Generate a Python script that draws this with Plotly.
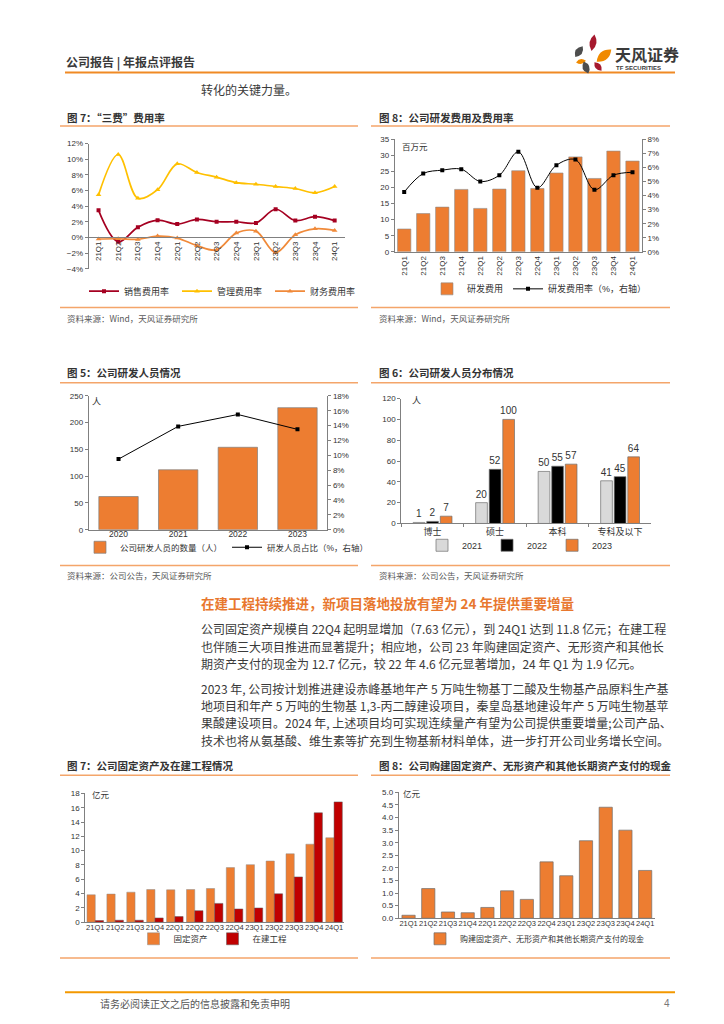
import plotly.graph_objects as go
import math

W, H = 724, 1024
def px(x): return x / W
def py(y): return 1 - y / H

CJK = "Noto Sans CJK SC"
NUM = "Liberation Sans, Noto Sans CJK SC"
ORANGE = "#ED7D31"
DARKRED = "#C00000"
AX = "#808080"
TXT = "#333333"
SEP = "#F4A56A"

# ---------------- data ----------------
quarters = ["21Q1", "21Q2", "21Q3", "21Q4", "22Q1", "22Q2", "22Q3",
            "22Q4", "23Q1", "23Q2", "23Q3", "23Q4", "24Q1"]
sales_rate = [3.46, -0.55, 1.3, 2.2, 1.7, 2.3, 2.0, 2.0, 1.85, 3.6, 2.15, 2.65, 2.15]
admin_rate = [5.44, 10.6, 5.0, 6.1, 9.4, 8.3, 7.7, 7.0, 6.8, 6.5, 6.25, 5.7, 6.5]
fin_rate = [-0.2, -0.17, -0.25, 0.17, -0.08, -1.05, -1.6, 0.55, 0.8, -1.94, 0.34, 1.1, 0.9]

rd_expense = [7.1, 11.9, 13.9, 19.4, 13.5, 19.5, 25.2, 19.7, 24.5, 29.5, 22.8, 31.3, 28.2]
rd_rate = [4.25, 5.56, 5.8, 5.87, 5.0, 5.44, 7.1, 4.55, 6.15, 6.55, 4.41, 5.44, 5.65]

years = ["2020", "2021", "2022", "2023"]
rd_staff = [62, 112, 154, 228]
rd_staff_share = [9.5, 13.9, 15.5, 13.5]

edu = ["博士", "硕士", "本科", "专科及以下"]
staff_2021 = [1, 20, 50, 41]
staff_2022 = [2, 52, 55, 45]
staff_2023 = [7, 100, 57, 64]

fixed_assets = [3.83, 3.93, 4.2, 4.57, 4.53, 4.57, 4.71, 7.63, 8.04, 8.55, 9.56, 10.9, 11.8]
cip = [0.23, 0.28, 0.28, 0.6, 0.79, 1.62, 2.63, 1.85, 1.99, 3.97, 6.33, 15.29, 16.81]
capex_cash = [0.12, 1.18, 0.25, 0.22, 0.43, 1.09, 0.75, 2.24, 1.69, 3.08, 4.41, 3.5, 1.9]

fig = go.Figure()

# ---- chart A: 三费费用率 ----
fig.add_trace(go.Scatter(x=quarters, y=sales_rate, name="销售费用率", mode="lines+markers",
                         line=dict(color="#A50021", width=1.7, shape="spline", smoothing=1),
                         marker=dict(symbol="square", size=4, color="#A50021"),
                         xaxis="x", yaxis="y", legend="legend"))
fig.add_trace(go.Scatter(x=quarters, y=admin_rate, name="管理费用率", mode="lines+markers",
                         line=dict(color="#FFC000", width=1.7, shape="spline", smoothing=1),
                         marker=dict(symbol="triangle-up", size=5, color="#FFC000"),
                         xaxis="x", yaxis="y", legend="legend"))
fig.add_trace(go.Scatter(x=quarters, y=fin_rate, name="财务费用率", mode="lines+markers",
                         line=dict(color="#F08A3A", width=1.7, shape="spline", smoothing=1),
                         marker=dict(symbol="triangle-up", size=5, color="#F08A3A"),
                         xaxis="x", yaxis="y", legend="legend"))

# ---- chart B: 研发费用 ----
fig.add_trace(go.Bar(x=quarters, y=rd_expense, name="研发费用", width=0.7,
                     marker=dict(color=ORANGE, line=dict(color="#8C8C8C", width=0.6)),
                     xaxis="x2", yaxis="y2", legend="legend2"))
fig.add_trace(go.Scatter(x=quarters, y=rd_rate, name="研发费用率（%，右轴）", mode="lines+markers",
                         line=dict(color="black", width=1, shape="spline", smoothing=1),
                         marker=dict(symbol="square", size=4, color="black"),
                         xaxis="x2", yaxis="y3", legend="legend2"))

# ---- chart C: 研发人员 ----
fig.add_trace(go.Bar(x=years, y=rd_staff, name="公司研发人员的数量（人）", width=0.66,
                     marker=dict(color=ORANGE, line=dict(color="#7F7F7F", width=0.7)),
                     xaxis="x3", yaxis="y4", legend="legend3"))
fig.add_trace(go.Scatter(x=years, y=rd_staff_share, name="研发人员占比（%，右轴）", mode="lines+markers",
                         line=dict(color="black", width=1),
                         marker=dict(symbol="square", size=4, color="black"),
                         xaxis="x3", yaxis="y5", legend="legend3"))

# ---- chart D: 研发人员分布 ----
for vals, nm, col, off in [(staff_2021, "2021", "#D9D9D9", -0.31),
                           (staff_2022, "2022", "#000000", -0.093),
                           (staff_2023, "2023", ORANGE, 0.124)]:
    fig.add_trace(go.Bar(x=edu, y=vals, name=nm, width=0.187, offset=off,
                         marker=dict(color=col, line=dict(color="#6E6E6E", width=0.7)),
                         text=vals, textposition="outside", cliponaxis=False,
                         constraintext="none", textangle=0,
                         textfont=dict(size=10, color=TXT, family=NUM),
                         xaxis="x4", yaxis="y6", legend="legend4"))

# ---- chart E: 固定资产及在建工程 ----
fig.add_trace(go.Bar(x=quarters, y=fixed_assets, name="固定资产", width=0.415, offset=-0.415,
                     marker=dict(color=ORANGE, line=dict(color="#8C8C8C", width=0.5)),
                     xaxis="x5", yaxis="y7", legend="legend5"))
fig.add_trace(go.Bar(x=quarters, y=cip, name="在建工程", width=0.415, offset=0.0,
                     marker=dict(color=DARKRED, line=dict(color="#5A5A5A", width=0.5)),
                     xaxis="x5", yaxis="y7", legend="legend5"))

# ---- chart F: 购建长期资产现金 ----
fig.add_trace(go.Bar(x=quarters, y=capex_cash, name="购建固定资产、无形资产和其他长期资产支付的现金",
                     width=0.67,
                     marker=dict(color=ORANGE, line=dict(color="#6E6E6E", width=0.7)),
                     xaxis="x6", yaxis="y8", legend="legend6"))


def yax(top, bottom, rng, dtick, **kw):
    d = dict(domain=[py(bottom), py(top)], range=rng, dtick=dtick, showgrid=False,
             zeroline=False, showline=True, linecolor=AX, linewidth=1, ticks="outside",
             ticklen=3, tickcolor=AX, tickfont=dict(size=8, color=TXT, family=NUM),
             fixedrange=True)
    d.update(kw)
    return d


def xax(left, right, **kw):
    d = dict(domain=[px(left), px(right)], type="category", showgrid=False, zeroline=False,
             showline=True, linecolor=AX, linewidth=1, ticks="",
             tickfont=dict(size=8, color=TXT, family=NUM), fixedrange=True)
    d.update(kw)
    return d


layout = dict(
    width=W, height=H, margin=dict(l=0, r=0, t=0, b=0),
    paper_bgcolor="white", plot_bgcolor="rgba(0,0,0,0)",
    font=dict(family=NUM, color=TXT),
    barmode="overlay",
    xaxis=xax(80.7, 336.5, anchor="free", position=py(227.3), range=[-0.5, 12.5], tickangle=-90),
    yaxis=yax(132.7, 259, [-4, 12], 2, ticksuffix="%", anchor="x"),
    xaxis2=xax(386.7, 634, anchor="y2", range=[-0.5, 12.5], tickangle=-90),
    yaxis2=yax(128.3, 242, [0, 35], 5, anchor="x2"),
    yaxis3=yax(128.3, 242, [0, 8], 1, ticksuffix="%", overlaying="y2", side="right", anchor="x2"),
    xaxis3=xax(80.7, 319.3, anchor="y4", range=[-0.5, 3.5], ticklabelstandoff=-4,
               tickfont=dict(size=8.5, color=TXT, family=NUM)),
    yaxis4=yax(387.3, 522.3, [0, 250], 50, anchor="x3"),
    yaxis5=yax(387.3, 522.3, [0, 18], 2, ticksuffix="%", overlaying="y4", side="right", anchor="x3"),
    xaxis4=xax(393.3, 643.3, anchor="y6", range=[-0.5, 3.5], ticks="outside", ticklen=3,
               tickcolor=AX, tickson="boundaries", tickfont=dict(size=9, color=TXT, family=CJK)),
    yaxis6=yax(390, 516, [0, 120], 20, anchor="x4"),
    xaxis5=xax(77.3, 336, anchor="y7", range=[-0.5, 12.5], tickangle=0, ticklabelstandoff=-2,
               tickfont=dict(size=7.5, color=TXT, family=NUM)),
    yaxis7=yax(788.3, 918.3, [0, 18], 2, anchor="x5"),
    xaxis6=xax(390.7, 647, anchor="y8", range=[-0.5, 12.5], tickangle=0, ticklabelstandoff=-2,
               tickfont=dict(size=7.5, color=TXT, family=NUM)),
    yaxis8=yax(787.3, 914.3, [0, 5], 0.5, tickformat=".1f", anchor="x6"),
    showlegend=True,
)

leg_common = dict(orientation="h", xanchor="left", yanchor="middle", bgcolor="rgba(0,0,0,0)",
                  borderwidth=0, itemwidth=30, font=dict(size=9, color=TXT, family=NUM),
                  itemclick=False, itemdoubleclick=False)
layout["legend"] = dict(leg_common, x=px(76), y=py(281.7), entrywidth=48)
layout["legend2"] = dict(leg_common, x=px(419), y=py(279.3))
layout["legend3"] = dict(leg_common, x=px(72), y=py(540), font=dict(size=8.5, color=TXT, family=NUM))
layout["legend4"] = dict(leg_common, x=px(512), y=py(538), xanchor="center")
layout["legend5"] = dict(leg_common, x=px(205), y=py(935), xanchor="center",
                         font=dict(size=8.5, color=TXT, family=NUM))
layout["legend6"] = dict(leg_common, x=px(412), y=py(935), font=dict(size=8, color=TXT, family=NUM))
fig.update_layout(**layout)

# ---------------- decorations ----------------
shapes = []
def hline(y, x0, x1, color=SEP, width=1.5):
    shapes.append(dict(type="line", xref="paper", yref="paper", x0=px(x0), x1=px(x1),
                       y0=py(y), y1=py(y), line=dict(color=color, width=width)))

hline(61, 57, 667, color="#F08A24", width=2)
for y in (115, 298, 374, 558.3, 770, 954.3):
    hline(y, 52, 350)
    hline(y, 363, 662)
hline(989, 57, 667, color="#F39800", width=2)

def petal(cx, cy, length, width, angle, color):
    a = math.radians(angle)
    ux, uy = math.cos(a), -math.sin(a)
    vx, vy = -uy, ux
    p1 = (cx - ux * length / 2, cy - uy * length / 2)
    p2 = (cx + ux * length / 2, cy + uy * length / 2)
    c1 = (cx + vx * width, cy + vy * width)
    c2 = (cx - vx * width, cy - vy * width)
    f = lambda p: f"{px(p[0]):.5f},{py(p[1]):.5f}"
    path = f"M {f(p1)} Q {f(c1)} {f(p2)} Q {f(c2)} {f(p1)} Z"
    shapes.append(dict(type="path", xref="paper", yref="paper", path=path,
                       fillcolor=color, line=dict(width=0)))

petal(585, 31, 17, 7, 80, "#A6192E")
petal(571, 40, 13, 7, 55, "#4D4D4D")
petal(596, 44, 19, 9, 40, "#F08A00")
petal(573, 50, 10, 5, 10, "#F08A00")
petal(590, 55, 11, 6, -50, "#A6192E")
petal(578, 56, 13, 7, 110, "#4D4D4D")

fig.update_layout(shapes=shapes)

ann = []
def text(x, y, s, size=9, color=TXT, family=CJK, anchor="left", bold=False, angle=0):
    ann.append(dict(x=px(x), y=py(y), xref="paper", yref="paper", text=(f"<b>{s}</b>" if bold else s),
                    showarrow=False, xanchor=anchor, yanchor="middle", textangle=angle,
                    font=dict(size=size, color=color, family=family)))

# header
text(56, 50, "公司报告 | 年报点评报告", size=12, bold=True, color="#3A3A3A")
text(605, 42, "天风证券", size=16, bold=True, color="#3A3A3A")
text(606, 56, "TF SECURITIES", size=6, bold=True, color="#3A3A3A", family=NUM)
text(191, 78, "转化的关键力量。", size=12, color="#3A3A3A")

# chart titles
text(57, 106.7, "图 7：“三费”费用率", size=10.5, bold=True)
text(369, 106.7, "图 8：公司研发费用及费用率", size=10.5, bold=True)
text(57, 364, "图 5：公司研发人员情况", size=10.5, bold=True)
text(369, 364, "图 6：公司研发人员分布情况", size=10.5, bold=True)
text(57, 760, "图 7：公司固定资产及在建工程情况", size=10.5, bold=True)
text(369, 760, "图 8：公司购建固定资产、无形资产和其他长期资产支付的现金", size=10.5, bold=True)

# sources
src_col = "#595959"
text(57, 308.5, "资料来源：Wind，天风证券研究所", size=8.5, color=src_col)
text(369, 308.5, "资料来源：Wind，天风证券研究所", size=8.5, color=src_col)
text(57, 568, "资料来源：公司公告，天风证券研究所", size=8.5, color=src_col)
text(369, 568, "资料来源：公司公告，天风证券研究所", size=8.5, color=src_col)

# units
text(392, 135, "百万元", size=8.5)
text(82, 392.7, "人", size=9)
text(402, 391.7, "人", size=9)
text(82, 789, "亿元", size=8.5)
text(393, 788, "亿元", size=8.5)

# section heading & body
text(191, 596.3, "在建工程持续推进，新项目落地投放有望为 24 年提供重要增量", size=13.5, bold=True,
     color="#E8772E")
body = [
    "公司固定资产规模自 22Q4 起明显增加（7.63 亿元），到 24Q1 达到 11.8 亿元；在建工程",
    "也伴随三大项目推进而显著提升；相应地，公司 23 年购建固定资产、无形资产和其他长",
    "期资产支付的现金为 12.7 亿元，较 22 年 4.6 亿元显著增加，24 年 Q1 为 1.9 亿元。",
    "2023 年, 公司按计划推进建设赤峰基地年产 5 万吨生物基丁二酸及生物基产品原料生产基",
    "地项目和年产 5 万吨的生物基 1,3-丙二醇建设项目，秦皇岛基地建设年产 5 万吨生物基苹",
    "果酸建设项目。2024 年, 上述项目均可实现连续量产有望为公司提供重要增量;公司产品、",
    "技术也将从氨基酸、维生素等扩充到生物基新材料单体，进一步打开公司业务增长空间。",
]
body_y = [622.3, 639.7, 657, 683, 699.7, 717, 734.7]
for s, y in zip(body, body_y):
    text(191, y, s, size=12, color="#3A3A3A")

# footer
text(90, 1000.5, "请务必阅读正文之后的信息披露和免责申明", size=10, color="#555555")
text(664, 1000.5, "4", size=10, color="#777777", family=NUM, anchor="right")

fig.update_layout(annotations=ann)

fig.write_html("out.html")
